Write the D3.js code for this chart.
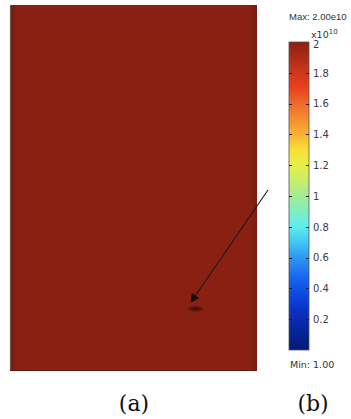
<!DOCTYPE html>
<html><head><meta charset="utf-8">
<script src="https://cdn.jsdelivr.net/npm/d3@7"></script>
<style>
html,body{margin:0;padding:0;background:#fff;overflow:hidden;}
svg{display:block;}
</style></head>
<body>
<svg id="c" width="351" height="419"></svg>
<script>
// ---- data ----
const fieldValue = 2.0;            // x1e10, uniform field
const fieldMin = 1.00, fieldMax = 2.00;
const colorbarDomain = [0, 2];
const tickValues = [0.2, 0.4, 0.6, 0.8, 1, 1.2, 1.4, 1.6, 1.8, 2];
const tickLabels = ["0.2", "0.4", "0.6", "0.8", "1", "1.2", "1.4", "1.6", "1.8", "2"];
const stopValues = [0, 0.2, 0.3, 0.4, 0.5, 0.6, 0.7, 0.8, 0.9, 1.0, 1.1, 1.2, 1.3, 1.4, 1.6, 1.7, 1.8, 2.0];
const stopColors = ["#001a78", "#0a2ab2", "#0a3ad2", "#0f52e8", "#1e70f0", "#2e98f0", "#40c6f6", "#60ecf0", "#80eec2", "#a2ec94", "#c8ee6e", "#e6f046", "#f8e034", "#f8b232", "#ee6a2a", "#e8421f", "#d0361c", "#8a2012"];
const panelLabels = ["(a)", "(b)"];

// ---- layout ----
const svg = d3.select("#c");
const defs = svg.append("defs");
const color = d3.scaleLinear().domain(stopValues).range(stopColors);

const plot = {x0: 10, x1: 257, y0: 5, y1: 371};
const xs = d3.scaleLinear().domain([0, 1]).range([plot.x0, plot.x1]);
const ys = d3.scaleLinear().domain([0, 1]).range([plot.y1, plot.y0]);

// field rectangle
const edge = defs.append("linearGradient").attr("id", "edgeH");
edge.append("stop").attr("offset", "0%").attr("stop-color", "#000").attr("stop-opacity", 0.18);
edge.append("stop").attr("offset", "3%").attr("stop-color", "#000").attr("stop-opacity", 0);
edge.append("stop").attr("offset", "97%").attr("stop-color", "#000").attr("stop-opacity", 0);
edge.append("stop").attr("offset", "100%").attr("stop-color", "#000").attr("stop-opacity", 0.12);

svg.append("rect")
  .attr("x", xs(0)).attr("y", ys(1))
  .attr("width", xs(1) - xs(0)).attr("height", ys(0) - ys(1))
  .attr("fill", color(fieldValue));
svg.append("rect")
  .attr("x", xs(0)).attr("y", ys(1))
  .attr("width", xs(1) - xs(0)).attr("height", ys(0) - ys(1))
  .attr("fill", "url(#edgeH)");
svg.append("line")
  .attr("x1", xs(0) + 0.5).attr("x2", xs(0) + 0.5)
  .attr("y1", ys(1)).attr("y2", ys(0))
  .attr("stroke", "#6d5a55").attr("stroke-width", 1.2);
svg.append("line")
  .attr("x1", xs(0)).attr("x2", xs(1))
  .attr("y1", ys(0) - 0.5).attr("y2", ys(0) - 0.5)
  .attr("stroke", "#5e1a0e").attr("stroke-width", 1);

// dark spot (small defect)
const rg = defs.append("radialGradient").attr("id", "spot");
rg.append("stop").attr("offset", "0%").attr("stop-color", "#2a0804").attr("stop-opacity", 0.9);
rg.append("stop").attr("offset", "60%").attr("stop-color", "#3a0c06").attr("stop-opacity", 0.5);
rg.append("stop").attr("offset", "100%").attr("stop-color", "#3a0c06").attr("stop-opacity", 0);
svg.append("ellipse")
  .attr("cx", xs(0.75)).attr("cy", ys(0.17))
  .attr("rx", 9).attr("ry", 3.5)
  .attr("fill", "url(#spot)");

// arrow
defs.append("marker").attr("id", "ah")
  .attr("viewBox", "0 0 10 10").attr("refX", 9).attr("refY", 5)
  .attr("markerWidth", 9).attr("markerHeight", 9).attr("orient", "auto")
  .attr("markerUnits", "userSpaceOnUse")
  .append("path").attr("d", "M0,0 L10,5 L0,10 Z").attr("fill", "#111");
svg.append("line")
  .attr("x1", 268).attr("y1", 190)
  .attr("x2", 191).attr("y2", 302)
  .attr("stroke", "#1a1a1a").attr("stroke-width", 1.1)
  .attr("marker-end", "url(#ah)");

// colorbar
const cb = {x: 289, w: 20, top: 42, bottom: 350};
const cy = d3.scaleLinear().domain(colorbarDomain).range([cb.bottom, cb.top]);
const lg = defs.append("linearGradient").attr("id", "cbg")
  .attr("x1", 0).attr("y1", 1).attr("x2", 0).attr("y2", 0);
stopValues.forEach((v, i) => {
  lg.append("stop").attr("offset", ((v - colorbarDomain[0]) / (colorbarDomain[1] - colorbarDomain[0]) * 100) + "%")
    .attr("stop-color", stopColors[i]);
});
svg.append("rect")
  .attr("x", cb.x).attr("y", cy(colorbarDomain[1]))
  .attr("width", cb.w).attr("height", cy(colorbarDomain[0]) - cy(colorbarDomain[1]))
  .attr("fill", "url(#cbg)")
  .attr("stroke", "#555").attr("stroke-width", 0.8);

const ticksG = svg.append("g");
tickValues.forEach(v => {
  const y = Math.round(cy(v)) + 0.5;
  if (v < colorbarDomain[1]) {
    ticksG.append("line").attr("x1", cb.x).attr("x2", cb.x + 3).attr("y1", y).attr("y2", y)
      .attr("stroke", "#222").attr("stroke-width", 1);
    ticksG.append("line").attr("x1", cb.x + cb.w - 3).attr("x2", cb.x + cb.w).attr("y1", y).attr("y2", y)
      .attr("stroke", "#222").attr("stroke-width", 1);
  }
});
const axis = d3.axisRight(cy).tickValues(tickValues)
  .tickFormat((d, i) => tickLabels[i]).tickSize(0).tickPadding(4);
const ag = svg.append("g").attr("transform", `translate(${cb.x + cb.w},0)`).call(axis);
ag.select(".domain").remove();
ag.selectAll("text")
  .attr("font-family", "DejaVu Sans, sans-serif").attr("font-size", 10)
  .attr("fill", "#3a3a4a");
// top label "2" sits slightly lower
ag.selectAll(".tick").filter(d => d === 2).select("text").attr("dy", "0.55em");

const sf = "DejaVu Sans, sans-serif";
svg.append("text").attr("x", 289).attr("y", 20)
  .attr("font-family", "Liberation Sans, Arial, sans-serif").attr("font-size", 9.5).attr("fill", "#333")
  .text("Max: " + fieldMax.toFixed(2) + "e10");
const mult = svg.append("text").attr("x", 311).attr("y", 38)
  .attr("font-family", sf).attr("font-size", 9.5).attr("fill", "#333");
mult.append("tspan").text("x10");
mult.append("tspan").attr("font-size", 7).attr("dy", -4).text("10");
svg.append("text").attr("x", 290).attr("y", 368)
  .attr("font-family", sf).attr("font-size", 9.5).attr("fill", "#333")
  .text("Min: " + fieldMin.toFixed(2));

// panel labels
const lf = "DejaVu Serif, Liberation Serif, serif";
svg.append("text").attr("x", 134).attr("y", 411).attr("text-anchor", "middle")
  .attr("font-family", lf).attr("font-size", 22).attr("fill", "#111").text(panelLabels[0]);
svg.append("text").attr("x", 313).attr("y", 411).attr("text-anchor", "middle")
  .attr("font-family", lf).attr("font-size", 22).attr("fill", "#111").text(panelLabels[1]);
</script>
</body></html>
